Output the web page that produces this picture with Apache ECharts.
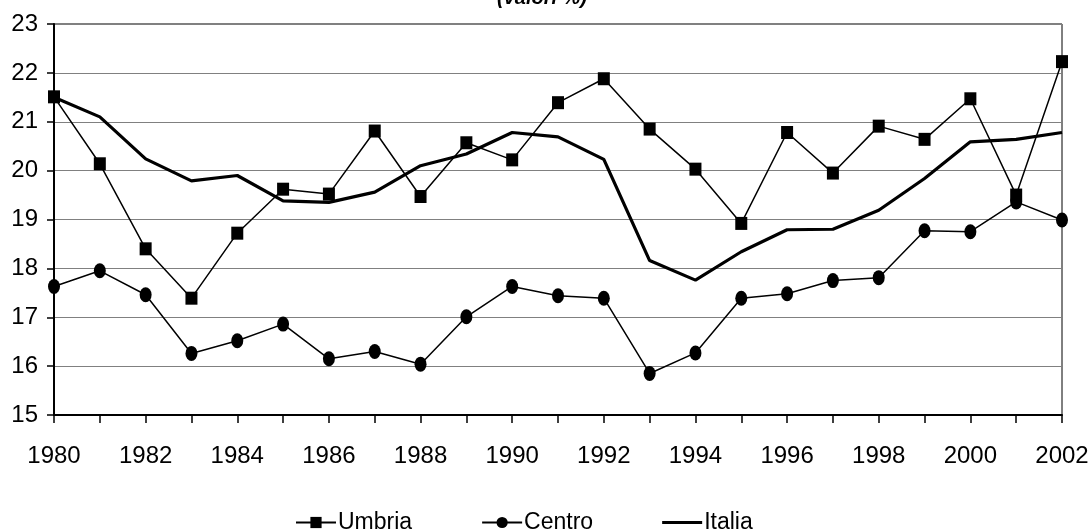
<!DOCTYPE html>
<html>
<head>
<meta charset="utf-8">
<script src="https://cdn.jsdelivr.net/npm/echarts@6/dist/echarts.min.js"></script>
<style>
html,body{margin:0;padding:0;background:#fff;}
#chart{width:1092px;height:531px;}
</style>
</head>
<body>
<div id="chart"></div>
<script>
var years = ['1980','1981','1982','1983','1984','1985','1986','1987','1988','1989','1990','1991','1992','1993','1994','1995','1996','1997','1998','1999','2000','2001','2002'];
var umbria = [21.51,20.14,18.40,17.39,18.72,19.62,19.52,20.81,19.47,20.57,20.22,21.39,21.88,20.85,20.03,18.92,20.78,19.95,20.91,20.64,21.47,19.50,22.23];
var centro = [17.63,17.95,17.46,16.26,16.52,16.86,16.15,16.30,16.04,17.01,17.63,17.44,17.39,15.85,16.27,17.39,17.48,17.75,17.81,18.77,18.75,19.36,18.99];
var italia = [21.50,21.10,20.24,19.79,19.90,19.38,19.35,19.56,20.10,20.34,20.78,20.69,20.23,18.16,17.76,18.34,18.79,18.80,19.19,19.84,20.59,20.64,20.78];
var yMin = 15, yMax = 23, yStep = 1;
var titleText = '(valori %)';

var FONT = "'Liberation Sans', Arial, sans-serif";
var chart = echarts.init(document.getElementById('chart'));
chart.setOption({
  animation: false,
  backgroundColor: '#ffffff',
  title: {
    text: titleText,
    left: 497,
    top: -12,
    padding: 0,
    textStyle: {fontFamily: FONT, fontSize: 20, fontWeight: 'bold', fontStyle: 'italic', color: '#000'}
  },
  grid: {left: 54, right: 30, top: 24, bottom: 116, show: true, borderColor: '#000', borderWidth: 1, backgroundColor: 'transparent'},
  legend: {
    left: 295,
    top: 511,
    itemWidth: 40,
    itemHeight: 14,
    itemGap: 69,
    padding: 0,
    textStyle: {fontFamily: FONT, fontSize: 23, color: '#000', padding: [0,0,0,-3]},
    data: ['Umbria','Centro',{name: 'Italia', icon: 'path://M0,0L40,0L40,3L0,3Z'}]
  },
  xAxis: {
    type: 'category',
    data: years,
    boundaryGap: false,
    axisLine: {lineStyle: {color: '#000', width: 2}},
    axisTick: {show: true, interval: 0, length: 8, lineStyle: {color: '#000', width: 1.5}},
    axisLabel: {interval: 1, margin: 29, fontFamily: FONT, fontSize: 24, color: '#000'},
    splitLine: {show: false}
  },
  yAxis: {
    type: 'value',
    min: yMin,
    max: yMax,
    interval: yStep,
    axisLine: {show: true, lineStyle: {color: '#000', width: 2}},
    axisTick: {show: true, length: 7, lineStyle: {color: '#000', width: 1.5}},
    axisLabel: {margin: 16, fontFamily: FONT, fontSize: 24, color: '#000'},
    splitLine: {show: true, lineStyle: {color: '#808080', width: 1}}
  },
  series: [
    {
      name: 'Umbria', type: 'line', data: umbria,
      symbol: 'rect', symbolSize: [12,13], showAllSymbol: true,
      itemStyle: {color: '#000'},
      lineStyle: {color: '#000', width: 1.5},
      z: 3
    },
    {
      name: 'Centro', type: 'line', data: centro,
      symbol: 'circle', symbolSize: [12,15], showAllSymbol: true,
      itemStyle: {color: '#000'},
      lineStyle: {color: '#000', width: 1.5},
      z: 3
    },
    {
      name: 'Italia', type: 'line', data: italia,
      symbol: 'none',
      itemStyle: {color: '#000'},
      lineStyle: {color: '#000', width: 3.2},
      z: 2
    }
  ]
});
</script>
</body>
</html>
